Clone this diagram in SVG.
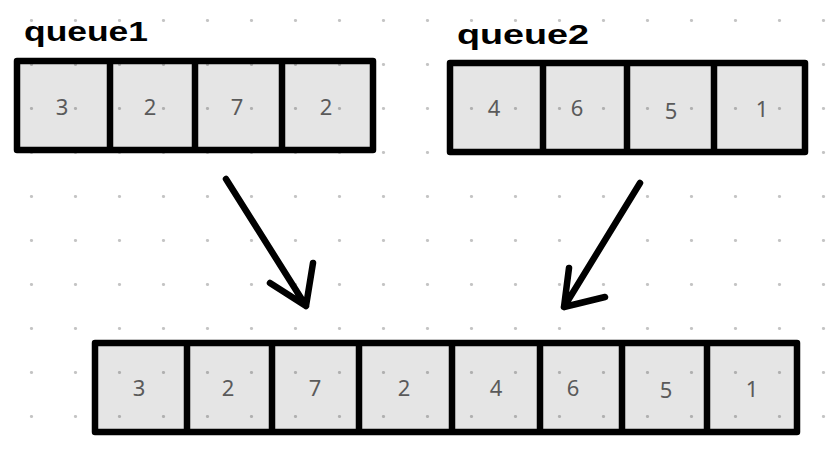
<svg xmlns="http://www.w3.org/2000/svg" width="830" height="452" viewBox="0 0 830 452">
<defs>
<pattern id="dots" x="31" y="20" width="44" height="44" patternUnits="userSpaceOnUse">
<circle cx="0.5" cy="0.5" r="1.6" fill="#c4c4c4"/>
<circle cx="44.5" cy="0.5" r="1.6" fill="#c4c4c4"/>
<circle cx="0.5" cy="44.5" r="1.6" fill="#c4c4c4"/>
<circle cx="44.5" cy="44.5" r="1.6" fill="#c4c4c4"/>
</pattern>
</defs>
<style>
.cell{fill:#000;fill-opacity:0.1;stroke:none}
.frame{fill:none;stroke:#000;stroke-width:6.5;stroke-linejoin:round}
.div{stroke:#000;stroke-width:6.5}
.num{font-family:"Noto Sans","DejaVu Sans",sans-serif;font-size:22px;fill:#5a5a5a;text-anchor:middle}
.title{font-family:"Liberation Sans",sans-serif;font-weight:bold;font-size:27px;fill:#000}
.arrow{fill:none;stroke:#000;stroke-width:6.5;stroke-linecap:round;stroke-linejoin:round}
</style>
<rect width="830" height="452" fill="#fff"/>
<rect width="830" height="452" fill="url(#dots)"/>

<g id="label-queue1"><text class="title" x="24" y="41" textLength="124" lengthAdjust="spacingAndGlyphs">queue1</text></g>
<g id="label-queue2"><text class="title" x="457" y="44" textLength="132" lengthAdjust="spacingAndGlyphs">queue2</text></g>

<g id="queue1">
<rect class="cell" x="17" y="61" width="356" height="89"/>
<line class="div" x1="110" y1="61" x2="110" y2="150"/>
<line class="div" x1="195" y1="61" x2="195" y2="150"/>
<line class="div" x1="282" y1="61" x2="282" y2="150"/>
<rect class="frame" x="17" y="61" width="356" height="89"/>
<text class="num" x="62" y="115">3</text>
<text class="num" x="150" y="115">2</text>
<text class="num" x="237" y="115">7</text>
<text class="num" x="326" y="115">2</text>
</g>

<g id="queue2">
<rect class="cell" x="450" y="63" width="355" height="89"/>
<line class="div" x1="543" y1="63" x2="543" y2="152"/>
<line class="div" x1="627" y1="63" x2="627" y2="152"/>
<line class="div" x1="714" y1="63" x2="714" y2="152"/>
<rect class="frame" x="450" y="63" width="355" height="89"/>
<text class="num" x="494" y="116">4</text>
<text class="num" x="577" y="116">6</text>
<text class="num" x="671" y="119">5</text>
<text class="num" x="762" y="117">1</text>
</g>

<g id="merged">
<rect class="cell" x="95" y="343" width="702" height="89"/>
<line class="div" x1="187" y1="343" x2="187" y2="432"/>
<line class="div" x1="272" y1="343" x2="272" y2="432"/>
<line class="div" x1="359" y1="343" x2="359" y2="432"/>
<line class="div" x1="452" y1="343" x2="452" y2="432"/>
<line class="div" x1="540" y1="343" x2="540" y2="432"/>
<line class="div" x1="622" y1="343" x2="622" y2="432"/>
<line class="div" x1="707" y1="343" x2="707" y2="432"/>
<rect class="frame" x="95" y="343" width="702" height="89"/>
<text class="num" x="139" y="396">3</text>
<text class="num" x="228" y="396">2</text>
<text class="num" x="315" y="396">7</text>
<text class="num" x="404" y="396">2</text>
<text class="num" x="496" y="396">4</text>
<text class="num" x="573" y="396">6</text>
<text class="num" x="666" y="398">5</text>
<text class="num" x="752" y="397">1</text>
</g>

<g id="connectors">
<path class="arrow" d="M226 179 L306 306 M270 283 L306 306 L313 263"/>
<path class="arrow" d="M640 183 L564 307 M569 268 L564 307 L605 297"/>
</g>
</svg>
